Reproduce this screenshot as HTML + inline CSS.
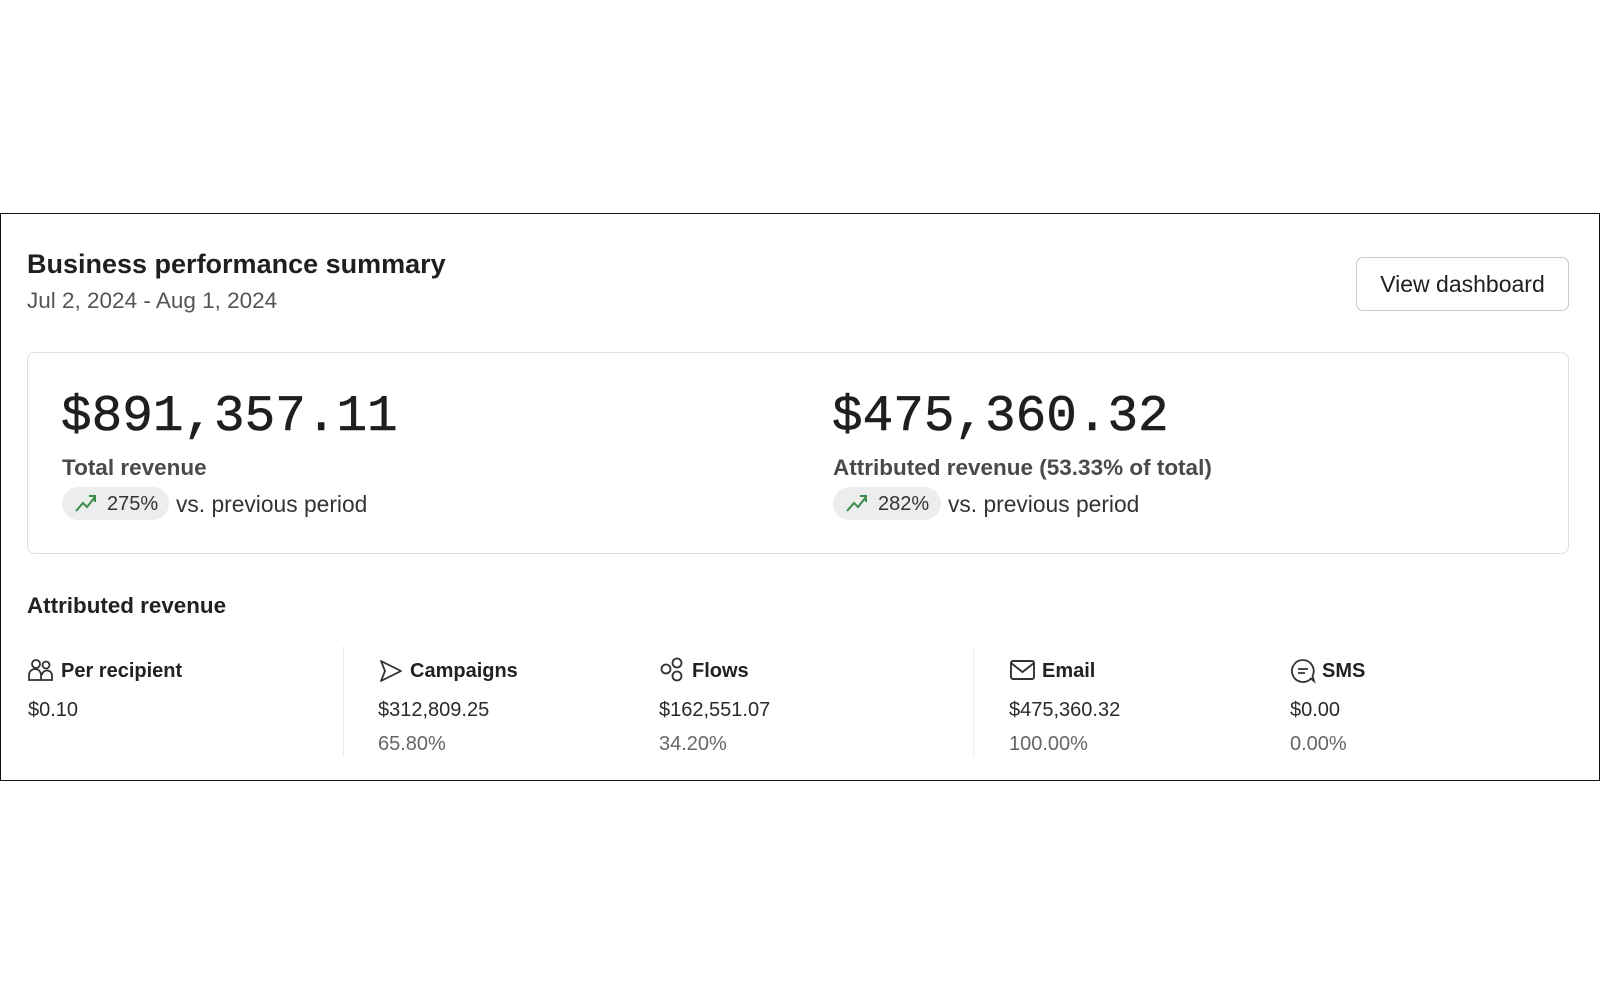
<!DOCTYPE html>
<html><head><meta charset="utf-8"><style>
*{margin:0;padding:0;box-sizing:border-box}
body{width:1600px;height:1000px;background:#fff;position:relative;font-family:"Liberation Sans",sans-serif;color:#1f1f1f;overflow:hidden}
.a{position:absolute;white-space:nowrap;line-height:1}
.outer{position:absolute;left:0;top:213px;width:1600px;height:568px;border:1.5px solid #111}
.card{position:absolute;left:27px;top:352px;width:1542px;height:202px;border:1.5px solid #dedede;border-radius:8px}
.btn{position:absolute;left:1356px;top:257px;width:213px;height:54px;border:1.5px solid #c9c9c9;border-radius:7px;font-size:23px;display:flex;align-items:center;justify-content:center;color:#1f1f1f}
.big{font-family:"Liberation Mono",monospace;font-size:51px;color:#1f1f1f;-webkit-text-stroke:0.6px #1f1f1f}
.lbl{font-size:22.5px;font-weight:bold;color:#4a4a4a}
.pill{position:absolute;height:33px;background:#eceeee;border-radius:17px}
.sm{font-size:20px;color:#2a2a2a}
.pc{font-size:20px;color:#666}
.hd{font-size:20px;font-weight:bold;color:#222}
.div{position:absolute;top:646px;width:1px;height:111px;background:#ececec}
</style></head><body>
<div class="outer"></div>
<div class="a" style="left:27px;top:251px;font-size:27px;font-weight:bold;color:#1f1f1f">Business performance summary</div>
<div class="a" style="left:27px;top:290px;font-size:22.5px;color:#555">Jul 2, 2024 - Aug 1, 2024</div>
<div class="btn">View dashboard</div>
<div class="card"></div>
<div class="a big" style="left:61px;top:392px">$891,357.11</div>
<div class="a lbl" style="left:62px;top:457px">Total revenue</div>
<div class="pill" style="left:62px;top:487px;width:107px"></div>
<svg class="a" style="left:74px;top:492px" width="24" height="22" viewBox="0 0 24 22"><path d="M2 19 L9 11 L13 15 L21 5 M15 4 L21 4 L21 10" fill="none" stroke="#3b8a4a" stroke-width="2"/></svg>
<div class="a" style="left:107px;top:494px;font-size:20px;color:#333">275%</div>
<div class="a" style="left:176px;top:493px;font-size:22.8px;color:#333">vs. previous period</div>
<div class="a big" style="left:832px;top:392px">$475,360.32</div>
<div class="a lbl" style="left:833px;top:457px">Attributed revenue (53.33% of total)</div>
<div class="pill" style="left:833px;top:487px;width:108px"></div>
<svg class="a" style="left:845px;top:492px" width="24" height="22" viewBox="0 0 24 22"><path d="M2 19 L9 11 L13 15 L21 5 M15 4 L21 4 L21 10" fill="none" stroke="#3b8a4a" stroke-width="2"/></svg>
<div class="a" style="left:878px;top:494px;font-size:20px;color:#333">282%</div>
<div class="a" style="left:948px;top:493px;font-size:22.8px;color:#333">vs. previous period</div>
<div class="a" style="left:27px;top:595px;font-size:22.4px;font-weight:bold;color:#222">Attributed revenue</div>
<div class="div" style="left:343px"></div>
<div class="div" style="left:973px"></div>
<svg class="a" style="left:28px;top:658px" width="26" height="24" viewBox="0 0 26 24"><g fill="none" stroke="#333" stroke-width="1.8"><circle cx="8" cy="6" r="4"/><circle cx="18" cy="7" r="3.5"/><path d="M1 22 V17 a6 6 0 0 1 12 0 V22 Z M13 22 H24 V18 a5 5 0 0 0 -10 -1"/></g></svg>
<div class="a hd" style="left:61px;top:661px">Per recipient</div>
<div class="a sm" style="left:28px;top:700px">$0.10</div>
<svg class="a" style="left:378px;top:658px" width="26" height="26" viewBox="0 0 26 26"><path d="M3 3 L23 13 L3 23 L7 13 Z" fill="none" stroke="#333" stroke-width="1.8" stroke-linejoin="round"/></svg>
<div class="a hd" style="left:410px;top:661px">Campaigns</div>
<div class="a sm" style="left:378px;top:700px">$312,809.25</div>
<div class="a pc" style="left:378px;top:734px">65.80%</div>
<svg class="a" style="left:659px;top:657px" width="26" height="26" viewBox="0 0 26 26"><g fill="none" stroke="#333" stroke-width="1.8"><circle cx="7" cy="12" r="4.5"/><circle cx="18" cy="6" r="4.5"/><circle cx="18" cy="19" r="4.5"/></g></svg>
<div class="a hd" style="left:692px;top:661px">Flows</div>
<div class="a sm" style="left:659px;top:700px">$162,551.07</div>
<div class="a pc" style="left:659px;top:734px">34.20%</div>
<svg class="a" style="left:1010px;top:660px" width="25" height="20" viewBox="0 0 25 20"><g fill="none" stroke="#333" stroke-width="1.9"><rect x="1" y="1" width="23" height="18" rx="2"/><path d="M1 3 L12.5 12 L24 3"/></g></svg>
<div class="a hd" style="left:1042px;top:661px">Email</div>
<div class="a sm" style="left:1009px;top:700px">$475,360.32</div>
<div class="a pc" style="left:1009px;top:734px">100.00%</div>
<svg class="a" style="left:1290px;top:658px" width="26" height="26" viewBox="0 0 26 26"><g fill="none" stroke="#333" stroke-width="1.8"><path d="M13 2 a11 11 0 1 0 8 18.5 L24 23 L22.5 18 A11 11 0 0 0 13 2 Z"/><path d="M8 11 H18 M8 15 H15"/></g></svg>
<div class="a hd" style="left:1322px;top:661px">SMS</div>
<div class="a sm" style="left:1290px;top:700px">$0.00</div>
<div class="a pc" style="left:1290px;top:734px">0.00%</div>
</body></html>
